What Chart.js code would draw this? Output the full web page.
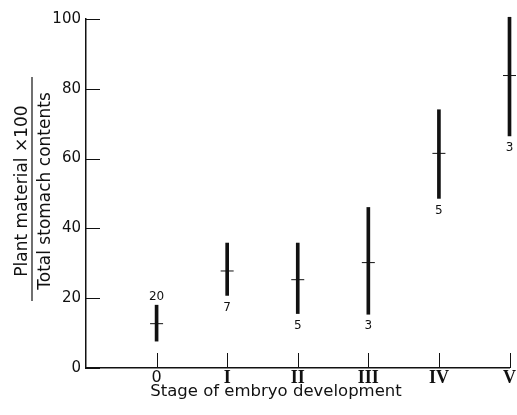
<!DOCTYPE html>
<html>
<head>
<meta charset="utf-8">
<script src="https://cdn.jsdelivr.net/npm/chart.js@4.4.1/dist/chart.umd.min.js"></script>
<style>
  html, body { margin: 0; background: #fff; }
  #wrap { width: 517px; height: 415px; }
</style>
</head>
<body>
<div id="wrap"><canvas id="chart"></canvas></div>
<script>
// Stage of embryo development vs % plant material in stomach
const stages = ['0', 'I', 'II', 'III', 'IV', 'V'];
const lowValues = [7.7, 20.8, 15.6, 15.4, 48.6, 66.5];
const highValues = [18, 35.8, 35.8, 46, 74, 100.5];
const meanValues = [12.7, 27.8, 25.3, 30.2, 61.5, 83.8];
const sampleSizes = [20, 7, 5, 3, 5, 3];
const yTicks = [0, 20, 40, 60, 80, 100];

// where the n label sits relative to the range bar
const labelSide = ['above', 'below', 'below', 'below', 'below', 'below'];

const ink = '#111';
const sans = '"DejaVu Sans", sans-serif';
const serif = '"Liberation Serif", "DejaVu Serif", serif';

// tick marks pointing into the plot, plus the axis titles
const paperPlugin = {
    id: 'paper',
    afterDatasetsDraw(chart) {
        const { ctx, chartArea, scales } = chart;
        ctx.save();
        ctx.strokeStyle = ink;
        ctx.lineWidth = 1;
        ctx.beginPath();
        yTicks.forEach(v => {
            const y = Math.round(scales.y.getPixelForValue(v)) + 0.5;
            ctx.moveTo(chartArea.left, y);
            ctx.lineTo(chartArea.left + 14, y);
        });
        stages.forEach((s, i) => {
            const x = Math.round(scales.x.getPixelForValue(i + 1)) + 0.5;
            ctx.moveTo(x, chartArea.bottom);
            ctx.lineTo(x, chartArea.bottom - 15);
        });
        ctx.stroke();

        // sample sizes
        ctx.fillStyle = ink;
        ctx.font = '12px ' + sans;
        ctx.textAlign = 'center';
        sampleSizes.forEach((n, i) => {
            const x = scales.x.getPixelForValue(i + 1);
            if (labelSide[i] === 'above') {
                ctx.textBaseline = 'bottom';
                ctx.fillText(String(n), x, scales.y.getPixelForValue(highValues[i]) - 2);
            } else {
                ctx.textBaseline = 'top';
                ctx.fillText(String(n), x, scales.y.getPixelForValue(lowValues[i]) + 6);
            }
        });
        ctx.restore();
    },
    afterDraw(chart) {
        const { ctx } = chart;
        ctx.save();
        ctx.fillStyle = ink;
        ctx.strokeStyle = ink;
        ctx.font = '16.5px ' + sans;
        ctx.textAlign = 'center';
        ctx.textBaseline = 'middle';
        ctx.fillText('Stage of embryo development', 276, 392);

        // y title as a fraction
        ctx.font = '17px ' + sans;
        ctx.translate(32, 189);
        ctx.rotate(-Math.PI / 2);
        ctx.textBaseline = 'alphabetic';
        ctx.fillText('Plant material \u00d7100', -2, -5);
        ctx.fillText('Total stomach contents', -2, 18);
        ctx.lineWidth = 1.2;
        ctx.beginPath();
        ctx.moveTo(-112, 0);
        ctx.lineTo(112, 0);
        ctx.stroke();
        ctx.restore();
    }
};

new Chart(document.getElementById('chart'), {
    type: 'bar',
    data: {
        datasets: [{
            label: 'Range',
            data: stages.map((s, i) => ({ x: i + 1, y: [lowValues[i], highValues[i]] })),
            backgroundColor: ink,
            barThickness: 3,
            borderSkipped: false,
            clip: false
        }, {
            type: 'scatter',
            label: 'Mean',
            data: stages.map((s, i) => ({ x: i + 1, y: meanValues[i] })),
            pointStyle: 'line',
            radius: 6.5,
            borderWidth: 1,
            borderColor: ink,
            clip: false
        }]
    },
    options: {
        responsive: true,
        maintainAspectRatio: false,
        animation: false,
        layout: { padding: { top: 19, right: 6 } },
        plugins: {
            legend: { display: false },
            tooltip: { enabled: false }
        },
        scales: {
            x: {
                type: 'linear',
                min: 0,
                max: 6,
                offset: false,
                afterBuildTicks: scale => {
                    scale.ticks = stages.map((s, i) => ({ value: i + 1 }));
                },
                afterFit: scale => { scale.height = 47; },
                ticks: {
                    callback: v => stages[v - 1],
                    color: ink,
                    padding: 0,
                    maxRotation: 0,
                    font: c => c.index === 0
                        ? { family: sans, size: 16 }
                        : { family: serif, size: 18, weight: 'bold' }
                },
                grid: { drawOnChartArea: false, drawTicks: false, offset: false },
                border: { color: ink, width: 1.5 }
            },
            y: {
                min: 0,
                max: 100,
                afterBuildTicks: scale => {
                    scale.ticks = yTicks.map(v => ({ value: v }));
                },
                afterFit: scale => { scale.width = 86; },
                ticks: {
                    color: ink,
                    padding: 5,
                    font: { family: sans, size: 15 }
                },
                grid: { drawOnChartArea: false, drawTicks: false },
                border: { color: ink, width: 1.5 }
            }
        }
    },
    plugins: [paperPlugin]
});
</script>
</body>
</html>
